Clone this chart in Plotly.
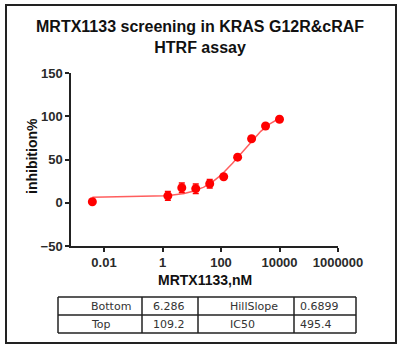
import numpy as np
import plotly.graph_objects as go

# ---- data ----
conc_nM = [0.004, 1.524, 4.572, 13.72, 41.15, 123.5, 370.4, 1111, 3333, 10000]
inhibition = [1.2, 8.0, 17.4, 16.3, 22.0, 30.0, 52.7, 74.0, 88.7, 96.5]
inhibition_err = [0.0, 5.0, 5.5, 5.5, 5.0, 1.0, 0.0, 0.0, 0.0, 0.0]

fit_bottom = 6.286
fit_top = 109.2
fit_hillslope = 0.6899
fit_ic50 = 495.4

x_tickvals = [0.01, 1, 100, 10000, 1000000]
x_ticktext = ["0.01", "1", "100", "10000", "1000000"]
y_tickvals = [-50, 0, 50, 100, 150]

table_rows = [["Bottom", "6.286", "HillSlope", "0.6899"],
              ["Top", "109.2", "IC50", "495.4"]]

title_text = "MRTX1133 screening in KRAS G12R&cRAF<br>HTRF assay"
x_title = "MRTX1133,nM"
y_title = "inhibition%"

# ---- fitted 4PL curve from the reported parameters ----
xc = np.logspace(np.log10(conc_nM[0]), np.log10(conc_nM[-1]), 300)
yc = fit_bottom + (fit_top - fit_bottom) / (1 + (fit_ic50 / xc) ** fit_hillslope)

W, H = 403, 350
L, R, T, B = 71, 338, 73, 246


def px(x):
    return (x - L) / (R - L)


def py(y):
    return (B - y) / (B - T)


fig = go.Figure()
fig.add_trace(go.Scatter(x=xc, y=yc, mode="lines",
                         line=dict(color="rgba(255,40,40,0.75)", width=1.5),
                         hoverinfo="skip", showlegend=False))
fig.add_trace(go.Scatter(x=conc_nM, y=inhibition, mode="markers",
                         marker=dict(color="#ff0000", size=9),
                         error_y=dict(type="data", array=inhibition_err,
                                      color="#ff0000", thickness=1.5, width=3),
                         showlegend=False))

tickfont = dict(family="Liberation Sans, Arial", size=13, weight="bold", color="#2a2a2a")
fig.update_xaxes(type="log", range=[-3.128, 6], tickvals=x_tickvals, ticktext=x_ticktext,
                 showline=True, linecolor="#222", linewidth=1.5, ticks="outside",
                 ticklen=4, tickwidth=1.5, tickcolor="#222", showgrid=False,
                 zeroline=False, tickfont=tickfont)
fig.update_yaxes(range=[-50, 150], tickvals=y_tickvals,
                 showline=True, linecolor="#222", linewidth=1.5, ticks="outside",
                 ticklen=4, tickwidth=1.5, tickcolor="#222", showgrid=False,
                 zeroline=False, tickfont=tickfont)

shapes = []
annotations = []
# outer frame
shapes.append(dict(type="rect", xref="paper", yref="paper",
                   x0=px(6), x1=px(396), y0=py(343), y1=py(5),
                   line=dict(color="#222", width=2)))

# title
annotations.append(dict(text="<b>" + title_text + "</b>", xref="paper", yref="paper",
                        x=px(200), y=py(37), xanchor="center", yanchor="middle",
                        showarrow=False,
                        font=dict(family="Liberation Sans, Arial", size=16, color="#111")))
# axis titles
annotations.append(dict(text="<b>" + x_title + "</b>", xref="paper", yref="paper",
                        x=px(205), y=py(280), xanchor="center", yanchor="middle",
                        showarrow=False,
                        font=dict(family="Liberation Sans, Arial", size=14, color="#111")))
annotations.append(dict(text="<b>" + y_title + "</b>", xref="paper", yref="paper",
                        x=px(32), y=py(156), xanchor="center", yanchor="middle",
                        textangle=-90, showarrow=False,
                        font=dict(family="Liberation Sans, Arial", size=14, color="#111")))

# parameter table
col_lines = [58, 142, 198, 294, 356]
row_lines = [297, 315, 333]
for xl in col_lines:
    shapes.append(dict(type="line", xref="paper", yref="paper",
                       x0=px(xl), x1=px(xl), y0=py(row_lines[0]), y1=py(row_lines[-1]),
                       line=dict(color="#222", width=1.5)))
for yl in row_lines:
    shapes.append(dict(type="line", xref="paper", yref="paper",
                       x0=px(col_lines[0]), x1=px(col_lines[-1]), y0=py(yl), y1=py(yl),
                       line=dict(color="#222", width=1.5)))
text_x = [89, 151, 228, 298]
row_y = [306, 324]
for r, row in enumerate(table_rows):
    for c, cell in enumerate(row):
        annotations.append(dict(text=cell, xref="paper", yref="paper",
                                x=px(text_x[c]), y=py(row_y[r]),
                                xanchor="left", yanchor="middle", showarrow=False,
                                font=dict(family="DejaVu Sans", size=11, color="#333")))

fig.update_layout(width=W, height=H, margin=dict(l=L, r=W - R, t=T, b=H - B),
                  paper_bgcolor="white", plot_bgcolor="white",
                  shapes=shapes, annotations=annotations)
fig.write_html("out.html")
